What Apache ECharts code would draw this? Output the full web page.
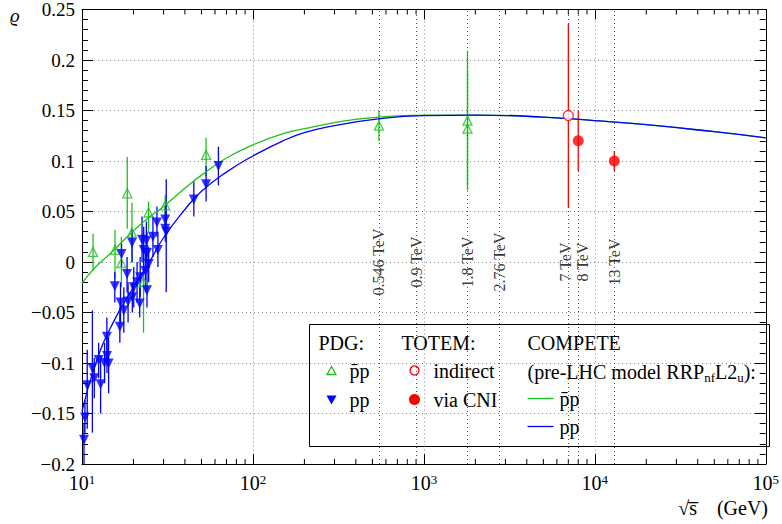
<!DOCTYPE html>
<html>
<head>
<meta charset="utf-8">
<script src="https://cdn.jsdelivr.net/npm/echarts@6/dist/echarts.min.js"></script>
<style>
  html, body { margin: 0; padding: 0; background: #fff; }
  #chart { width: 782px; height: 524px; }
</style>
</head>
<body>
<div id="chart"></div>
<script>
// PDG pbar-p: sqrt(s) [GeV], rho, error low, error high
const ppbarE   = [11.6, 15.6, 17.0, 18.4, 19.6, 22.9, 24.5, 30.7, 53.2, 546, 1800, 1800];
const ppbarRho = [0.010, 0.012, -0.001, 0.068, 0.029, -0.020, 0.049, 0.056, 0.106, 0.135, 0.140, 0.132];
const ppbarLo  = [-0.008, -0.017, -0.025, 0.033, -0.001, -0.070, 0.030, 0.045, 0.085, 0.120, 0.071, 0.076];
const ppbarHi  = [0.028, 0.032, 0.025, 0.104, 0.059, 0.030, 0.060, 0.066, 0.123, 0.150, 0.209, 0.188];

// PDG pp
const ppE   = [10.27, 10.4, 10.73, 11.5, 11.8, 12.51, 12.85, 13.55, 13.98, 14.0, 14.31, 15.56, 16.65, 16.8, 17.03, 17.56, 18.35, 18.6, 19.63, 19.7,
               20.08, 21.0, 21.76, 21.9, 22.45, 22.96, 23.49, 23.8, 24.0, 24.0, 24.55, 26.0, 27.44, 27.8, 30.7, 30.7, 31.1, 45.1, 53.2, 62.8];
const ppRho = [-0.176, -0.154, -0.122, -0.105, -0.115, -0.097, -0.121, -0.100, -0.074, -0.093, -0.1005, -0.024, -0.064, -0.040, 0.008, -0.048, -0.012, -0.039, 0.019, -0.035,
               -0.025, -0.020, -0.041, -0.015, 0.022, 0.012, -0.009, 0.021, 0.009, -0.028, -0.002, 0.025, 0.039, 0.012, 0.042, 0.033, 0.030, 0.062, 0.077, 0.095];
const ppLo  = [-0.200, -0.170, -0.165, -0.169, -0.135, -0.115, -0.150, -0.120, -0.095, -0.110, -0.130, -0.040, -0.080, -0.060, -0.005, -0.070, -0.030, -0.060, 0.000, -0.050,
               -0.045, -0.040, -0.055, -0.035, 0.000, -0.010, -0.030, 0.000, -0.010, -0.045, -0.020, 0.005, 0.025, -0.005, 0.030, 0.020, -0.030, 0.045, 0.060, 0.076];
const ppHi  = [-0.160, -0.137, -0.087, -0.048, -0.095, -0.080, -0.093, -0.080, -0.055, -0.075, -0.075, -0.010, -0.045, -0.020, 0.018, -0.025, 0.005, -0.020, 0.032, -0.020,
               -0.005, 0.000, -0.025, 0.005, 0.045, 0.035, 0.010, 0.040, 0.030, -0.010, 0.015, 0.045, 0.055, 0.030, 0.055, 0.045, 0.082, 0.080, 0.095, 0.114];

// TOTEM
const totemIndE = [7000], totemIndRho = [0.145], totemIndLo = [0.054], totemIndHi = [0.236];
const totemCniE = [8000, 13000], totemCniRho = [0.12, 0.10], totemCniLo = [0.09, 0.09], totemCniHi = [0.15, 0.11];

// COMPETE curves
const curveE        = [10, 12, 15, 20, 25, 30, 40, 50, 70, 100, 150, 200, 300, 500, 1000, 2000, 5000, 10000, 20000, 50000, 100000];
const curvePbarRho  = [-0.021, -0.005, 0.010, 0.031, 0.045, 0.055, 0.073, 0.086, 0.103, 0.116, 0.127, 0.132, 0.138, 0.143, 0.1455, 0.1455, 0.1435, 0.140, 0.136, 0.129, 0.123];
const curvePpRho    = [-0.148, -0.101, -0.062, -0.025, 0.001, 0.024, 0.052, 0.070, 0.089, 0.105, 0.120, 0.128, 0.135, 0.141, 0.145, 0.1455, 0.1435, 0.140, 0.136, 0.129, 0.123];

// energy marker lines
const energyE      = [546, 900, 1800, 2760, 7000, 8000, 13000];
const energyLabels = ['0.546 TeV', '0.9 TeV', '1.8 TeV', '2.76 TeV', '7 TeV', '8 TeV', '13 TeV'];

// minor ticks of the log axis
const minorTicksX = [20, 30, 40, 50, 60, 70, 80, 90, 200, 300, 400, 500, 600, 700, 800, 900,
                     2000, 3000, 4000, 5000, 6000, 7000, 8000, 9000, 20000, 30000, 40000, 50000, 60000, 70000, 80000, 90000];

const GREEN = '#1cc21c', BLUE = '#0000ff', RED = '#ff0000';
const FONT = '"Liberation Serif", "DejaVu Serif", serif';
const LEG = '20px ' + FONT;

const zip2 = (a, b) => a.map((v, i) => [v, b[i]]);
const zip3 = (a, b, c) => a.map((v, i) => [v, b[i], c[i]]);

function errorBars(data, color) {
    return {
        type: 'custom',
        data: data,
        clip: true,
        silent: true,
        z: 3,
        encode: { x: 0, y: [1, 2] },
        renderItem: function (params, api) {
            const lo = api.coord([api.value(0), api.value(1)]);
            const hi = api.coord([api.value(0), api.value(2)]);
            return {
                type: 'line',
                shape: { x1: lo[0], y1: lo[1], x2: hi[0], y2: hi[1] },
                style: { stroke: color, lineWidth: 1.3 }
            };
        }
    };
}

// the 7 and 8 TeV labels are pushed apart sideways (offset is in the rotated text frame)
function energyLabelShift(name) {
    if (name === '7 TeV') return [0, -3];
    if (name === '8 TeV') return [0, 4];
    return [0, 0];
}

const chart = echarts.init(document.getElementById('chart'), null, { renderer: 'svg' });

const dotted = { color: '#888', type: [1, 3], width: 1 };
const frameLine = { show: true, onZero: false, lineStyle: { color: '#000', width: 1 } };

const option = {
    animation: false,
    backgroundColor: '#fff',
    textStyle: { fontFamily: FONT },
    grid: { left: 82, right: 13, top: 8, bottom: 60, containLabel: false },
    xAxis: [
        {
            type: 'log', logBase: 10, min: 10, max: 100000, position: 'bottom',
            axisLine: frameLine,
            axisTick: { inside: true, length: 10, lineStyle: { color: '#000' } },
            splitLine: { show: true, lineStyle: dotted },
            axisLabel: {
                margin: 9,
                fontFamily: FONT, fontSize: 20, color: '#000',
                formatter: v => '10{sup|' + Math.round(Math.log10(v)) + '}',
                rich: { sup: { fontFamily: FONT, fontSize: 13, color: '#000', verticalAlign: 'top', lineHeight: 10 } }
            }
        },
        {
            type: 'log', logBase: 10, min: 10, max: 100000, position: 'top',
            axisLine: frameLine,
            axisTick: { inside: true, length: 10, lineStyle: { color: '#000' } },
            splitLine: { show: false },
            axisLabel: { show: false }
        }
    ],
    yAxis: [
        {
            type: 'value', min: -0.2, max: 0.25, interval: 0.05, position: 'left',
            axisLine: frameLine,
            axisTick: { show: true, inside: true, length: 11, lineStyle: { color: '#000' } },
            minorTick: { show: true, splitNumber: 5, length: 6, lineStyle: { color: '#000' } },
            splitLine: { show: true, lineStyle: dotted },
            axisLabel: {
                margin: 7, fontFamily: FONT, fontSize: 19, color: '#000',
                formatter: v => String(Math.round(v * 100) / 100).replace('-', '\u2212')
            }
        },
        {
            type: 'value', min: -0.2, max: 0.25, interval: 0.05, position: 'right',
            axisLine: frameLine,
            axisTick: { show: true, inside: true, length: 11, lineStyle: { color: '#000' } },
            minorTick: { show: true, splitNumber: 5, length: 6, lineStyle: { color: '#000' } },
            splitLine: { show: false },
            axisLabel: { show: false }
        }
    ],
    series: [
        // minor ticks on the log axis (bottom and top)
        {
            type: 'custom',
            data: minorTicksX.map(v => [v, 0]),
            silent: true,
            clip: false,
            encode: { x: 0, y: 1 },
            renderItem: function (params, api) {
                const x = api.coord([api.value(0), 0])[0];
                const cs = params.coordSys;
                const bottom = cs.y + cs.height;
                return {
                    type: 'group',
                    children: [
                        { type: 'line', shape: { x1: x, y1: bottom, x2: x, y2: bottom - 5 }, style: { stroke: '#000', lineWidth: 1 } },
                        { type: 'line', shape: { x1: x, y1: cs.y, x2: x, y2: cs.y + 5 }, style: { stroke: '#000', lineWidth: 1 } }
                    ]
                };
            }
        },
        // energy labels and dotted lines
        {
            type: 'scatter',
            silent: true,
            symbolSize: 0,
            z: 4,
            data: energyE.map((e, i) => ({
                value: [e, 0], name: energyLabels[i],
                label: { offset: energyLabelShift(energyLabels[i]) }
            })),
            label: {
                show: true, position: 'inside', rotate: 90,
                formatter: p => p.name,
                fontFamily: FONT, fontSize: 16, color: '#000'
            },
            markLine: {
                silent: true,
                symbol: 'none',
                label: { show: false },
                lineStyle: { color: '#555', type: [1, 3], width: 1 },
                data: energyE.map(e => ({ xAxis: e }))
            }
        },
        errorBars(zip3(ppbarE, ppbarLo, ppbarHi), GREEN),
        errorBars(zip3(ppE, ppLo, ppHi), BLUE),
        errorBars(zip3(totemIndE, totemIndLo, totemIndHi), RED),
        errorBars(zip3(totemCniE, totemCniLo, totemCniHi), RED),
        {
            name: 'COMPETE pbar-p', type: 'line', smooth: true, showSymbol: false, silent: true, z: 5,
            data: zip2(curveE, curvePbarRho),
            lineStyle: { color: GREEN, width: 1.3 }
        },
        {
            name: 'COMPETE pp', type: 'line', smooth: true, showSymbol: false, silent: true, z: 5,
            data: zip2(curveE, curvePpRho),
            lineStyle: { color: BLUE, width: 1.3 }
        },
        {
            name: 'PDG pbar-p', type: 'scatter', symbol: 'triangle', symbolSize: 9, z: 6,
            data: zip2(ppbarE, ppbarRho),
            itemStyle: { color: 'rgba(255,255,255,0)', borderColor: GREEN, borderWidth: 1.3 }
        },
        {
            name: 'PDG pp', type: 'scatter', symbol: 'triangle', symbolRotate: 180, symbolSize: 10, z: 6,
            data: zip2(ppE, ppRho),
            itemStyle: { color: BLUE }
        },
        {
            name: 'TOTEM indirect', type: 'scatter', symbol: 'circle', symbolSize: 10, z: 6,
            data: zip2(totemIndE, totemIndRho),
            itemStyle: { color: '#fff', borderColor: RED, borderWidth: 1.3 }
        },
        {
            name: 'TOTEM via CNI', type: 'scatter', symbol: 'circle', symbolSize: 11, z: 6,
            data: zip2(totemCniE, totemCniRho),
            itemStyle: { color: RED }
        }
    ],
    graphic: [
        { type: 'text', left: 10, top: 6, style: { text: '\u03f1', font: 'italic 19px ' + FONT, fill: '#000' } },
        { type: 'text', right: 14, top: 498, style: { text: '\u221as\u0305    (GeV)', font: '20px ' + FONT, fill: '#000' } },
        {
            type: 'group', left: 309, top: 324, z: 100,
            children: [
                { type: 'rect', shape: { x: 0, y: 0, width: 460, height: 122 }, style: { fill: '#fff', stroke: '#000', lineWidth: 1 } },
                { type: 'text', x: 9, y: 18, style: { text: 'PDG:', font: LEG, fill: '#000', verticalAlign: 'middle' } },
                { type: 'text', x: 92, y: 18, style: { text: 'TOTEM:', font: LEG, fill: '#000', verticalAlign: 'middle' } },
                { type: 'text', x: 218, y: 18, style: { text: 'COMPETE', font: LEG, fill: '#000', verticalAlign: 'middle' } },

                { type: 'polygon', shape: { points: [[22, 42], [17.5, 50], [26.5, 50]] }, style: { fill: 'none', stroke: GREEN, lineWidth: 1.3 } },
                { type: 'text', x: 40, y: 46, style: { text: 'p\u0304p', font: LEG, fill: '#000', verticalAlign: 'middle' } },
                { type: 'polygon', shape: { points: [[17, 71], [27, 71], [22, 80]] }, style: { fill: BLUE } },
                { type: 'text', x: 40, y: 75, style: { text: 'pp', font: LEG, fill: '#000', verticalAlign: 'middle' } },

                { type: 'circle', shape: { cx: 105, cy: 46, r: 4.5 }, style: { fill: '#fff', stroke: RED, lineWidth: 1.3 } },
                { type: 'text', x: 124, y: 46, style: { text: 'indirect', font: LEG, fill: '#000', verticalAlign: 'middle' } },
                { type: 'circle', shape: { cx: 105, cy: 75, r: 5.5 }, style: { fill: RED } },
                { type: 'text', x: 124, y: 75, style: { text: 'via CNI', font: LEG, fill: '#000', verticalAlign: 'middle' } },

                {
                    type: 'text', x: 218, y: 47,
                    style: {
                        text: '(pre-LHC model RRP{sub|nf}L2{sub|u}):', font: LEG, fill: '#000', verticalAlign: 'middle',
                        lineHeight: 24,
                        rich: { sub: { fontFamily: FONT, fontSize: 13, fill: '#000', verticalAlign: 'bottom', lineHeight: 10 } }
                    }
                },
                { type: 'line', shape: { x1: 218, y1: 74, x2: 244, y2: 74 }, style: { stroke: GREEN, lineWidth: 1.3 } },
                { type: 'text', x: 250, y: 74, style: { text: 'p\u0304p', font: LEG, fill: '#000', verticalAlign: 'middle' } },
                { type: 'line', shape: { x1: 218, y1: 102, x2: 244, y2: 102 }, style: { stroke: BLUE, lineWidth: 1.3 } },
                { type: 'text', x: 250, y: 102, style: { text: 'pp', font: LEG, fill: '#000', verticalAlign: 'middle' } }
            ]
        }
    ]
};

chart.setOption(option);
</script>
</body>
</html>
